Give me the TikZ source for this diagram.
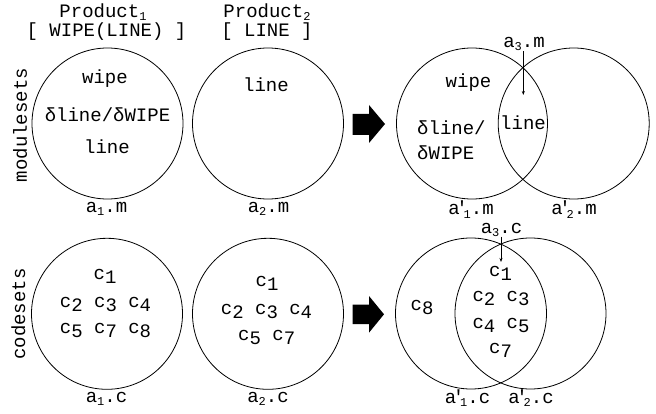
\documentclass[tikz,border=0pt]{standalone}
\usepackage{fontspec}
\setmonofont{Liberation Mono}
\usetikzlibrary{arrows.meta, positioning}

% small lowered index, primed set name, code unit
\newcommand{\sbs}[1]{\raisebox{-3pt}{\fontsize{12}{12}\selectfont #1}}
\newcommand{\ap}[1]{a\kern-3.5pt'\kern-4pt\sbs{#1}}
\newcommand{\cc}[1]{c\raisebox{-4pt}{#1}}

\tikzset{
    txt/.style={font=\ttfamily\fontsize{19}{24}\selectfont, inner sep=0pt, anchor=base},
    setc/.style={draw, circle, minimum size=151pt, inner sep=0pt, line width=0.8pt},
    tip/.style={-{Stealth[length=4pt, width=3pt]}, line width=0.8pt},
}

\begin{document}
\begin{tikzpicture}[x=1pt, y=-1pt]

    \useasboundingbox (0,0) rectangle (656,414);

    % =================================================================
    % 1. HEADERS AND ROW LABELS
    % =================================================================
    \node[txt] (p1)  at (103,18)    {Product\sbs{1}};
    \node[txt] (p1f) at (106.5,37)  {[ WIPE(LINE) ]};
    \node[txt] (p2)  at (267,18)    {Product\sbs{2}};
    \node[txt] (p2f) at (267,37)    {[ LINE ]};

    \node[txt, rotate=90] (rowm) at (27,125) {modulesets};
    \node[txt, rotate=90] (rowc) at (25,314) {codesets};

    % =================================================================
    % 2. MODULE SETS (top row)
    % =================================================================
    \node[setc] (m1)  at (107.5,123.5) {};
    \node[setc] (m2)  at (268,123.5)   {};
    \node[setc] (m1r) at (472,123.5)   {};
    \node[setc] (m2r) at (573.7,123.5) {};

    \node[txt] (m1a) at (105,83.3)    {wipe};
    \node[txt] (m1b) at (107.5,121.7) {δline/δWIPE};
    \node[txt] (m1c) at (107,154)     {line};
    \node[txt] (m2a) at (266,91.7)    {line};

    \node[txt] (m1ra) at (468.5,87.3) {wipe};
    \node[txt, anchor=base west] (m1rb) at (417,135)   {δline/};
    \node[txt, anchor=base west] (m1rc) at (417,159.3) {δWIPE};
    \node[txt] (m3a) at (523,130) {line};

    \node[txt] (a1m) at (106.5,212.7) {a\sbs{1}.m};
    \node[txt] (a2m) at (268.5,212.7) {a\sbs{2}.m};
    \node[txt] (b1m) at (471,215)     {\ap{1}.m};
    \node[txt] (b2m) at (574,215)     {\ap{2}.m};

    \node[txt] (a3m) at (524,47.7) {a\sbs{3}.m};
    \coordinate (a3mtip) at (523.3,95);
    \draw[tip] (a3mtip |- a3m.south) -- (a3mtip);

    % =================================================================
    % 3. CODE SETS (bottom row)
    % =================================================================
    \node[setc] (c1)  at (107,313.8) {};
    \node[setc] (c2)  at (268,313.8) {};
    \node[setc] (c1r) at (471,313.5) {};
    \node[setc] (c2r) at (530.5,313.5) {};

    \node[txt] (c1a) at (105,279.3)   {\cc1};
    \node[txt] (c1b) at (105.5,307.7) {\cc2 \cc3 \cc4};
    \node[txt] (c1c) at (105.5,333)   {\cc5 \cc7 \cc8};

    \node[txt] (c2a) at (267,286.3)   {\cc1};
    \node[txt] (c2b) at (266.5,314.7) {\cc2 \cc3 \cc4};
    \node[txt] (c2c) at (266.7,340)   {\cc5 \cc7};

    \node[txt] (c1ra) at (422,310)     {\cc8};
    \node[txt] (c3a)  at (500.5,276.7) {\cc1};
    \node[txt] (c3b)  at (501,301.7)   {\cc2 \cc3};
    \node[txt] (c3c)  at (501,328.3)   {\cc4 \cc5};
    \node[txt] (c3d)  at (500.5,353.3) {\cc7};

    \node[txt] (a1c) at (106.5,402.7) {a\sbs{1}.c};
    \node[txt] (a2c) at (268,402.7)   {a\sbs{2}.c};
    \node[txt] (b1c) at (467.5,403)   {\ap{1}.c};
    \node[txt] (b2c) at (531,403)     {\ap{2}.c};

    \node[txt] (a3c) at (501.5,233.3) {a\sbs{3}.c};
    \coordinate (a3ctip) at (501,262);
    \draw[tip] (a3ctip |- a3c.south) -- (a3ctip);

    % =================================================================
    % 4. BLOCK ARROWS
    % =================================================================
    \fill (352.7,114) -- (369,114) -- (369,105) -- (385,124)
        -- (369,143) -- (369,135) -- (352.7,135) -- cycle;
    \fill (352.7,304.5) -- (369,304.5) -- (369,296) -- (384,314.3)
        -- (369,332.7) -- (369,324) -- (352.7,324) -- cycle;

\end{tikzpicture}
\end{document}
